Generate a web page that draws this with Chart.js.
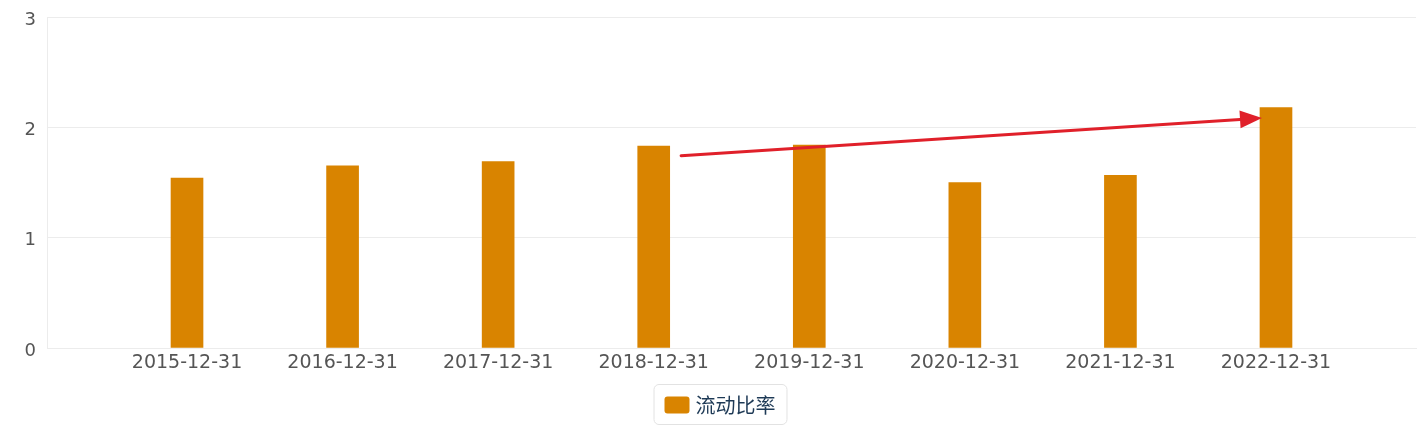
<!DOCTYPE html>
<html>
<head>
<meta charset="utf-8">
<script src="https://cdn.jsdelivr.net/npm/chart.js@4/dist/chart.umd.min.js"></script>
<style>
html,body{margin:0;padding:0;background:#fff;}
#wrap{width:1424px;height:428px;position:relative;}
</style>
</head>
<body>
<div id="wrap"><canvas id="c" width="1424" height="428"></canvas></div>
<script>
const categories = ['2015-12-31','2016-12-31','2017-12-31','2018-12-31','2019-12-31','2020-12-31','2021-12-31','2022-12-31'];
const seriesName = '流动比率';
const currentRatio = [1.54, 1.65, 1.69, 1.83, 1.84, 1.50, 1.565, 2.18];
const yTicks = [0, 1, 2, 3];
// annotation arrow in data coordinates (category index, value)
const arrowFrom = [3.176, 1.743];
const arrowTo = [6.91, 2.085];

const BAR = '#d98400';
const LABEL = '#555555';
const GRID = '#ececec';

const arrowPlugin = {
  id: 'arrow',
  afterDatasetsDraw(chart) {
    const x = chart.scales.x, y = chart.scales.y, ctx = chart.ctx;
    const x1 = x.getPixelForValue(arrowFrom[0]), y1 = y.getPixelForValue(arrowFrom[1]);
    const x2 = x.getPixelForValue(arrowTo[0]), y2 = y.getPixelForValue(arrowTo[1]);
    const ang = Math.atan2(y2 - y1, x2 - x1);
    const headLen = 22, headW = 9;
    const bx = x2 - headLen * Math.cos(ang), by = y2 - headLen * Math.sin(ang);
    ctx.save();
    ctx.strokeStyle = '#e0202a';
    ctx.fillStyle = '#e0202a';
    ctx.lineWidth = 3;
    ctx.lineCap = 'round';
    ctx.beginPath();
    ctx.moveTo(x1, y1);
    ctx.lineTo(bx, by);
    ctx.stroke();
    ctx.beginPath();
    ctx.moveTo(x2, y2);
    ctx.lineTo(bx + headW * Math.sin(ang), by - headW * Math.cos(ang));
    ctx.lineTo(bx - headW * Math.sin(ang), by + headW * Math.cos(ang));
    ctx.closePath();
    ctx.fill();
    ctx.restore();
  }
};

const legendPlugin = {
  id: 'boxLegend',
  afterDraw(chart) {
    const ctx = chart.ctx;
    ctx.save();
    ctx.font = '20px "Noto Sans CJK SC", "Noto Sans", sans-serif';
    const tw = ctx.measureText(seriesName).width;
    const sw = 25, sh = 17, gap = 6, padX = 11;
    const w = padX + sw + gap + tw + padX, h = 40;
    const cx = chart.width / 2 + 8;
    const left = cx - w / 2, top = 384;
    ctx.strokeStyle = '#e2e2e2';
    ctx.lineWidth = 1;
    ctx.beginPath();
    ctx.roundRect(left + 0.5, top + 0.5, w, h, 5);
    ctx.stroke();
    ctx.fillStyle = BAR;
    ctx.beginPath();
    ctx.roundRect(left + padX, top + (h - sh) / 2 + 1, sw, sh, 3);
    ctx.fill();
    ctx.fillStyle = '#1e3a56';
    ctx.textBaseline = 'middle';
    ctx.textAlign = 'left';
    ctx.fillText(seriesName, left + padX + sw + gap, top + h / 2 + 1);
    ctx.restore();
  }
};

new Chart(document.getElementById('c'), {
  type: 'bar',
  data: {
    datasets: [{
      label: seriesName,
      data: currentRatio.map((v, i) => ({x: i, y: v})),
      backgroundColor: BAR,
      barThickness: 32
    }]
  },
  options: {
    responsive: false,
    animation: false,
    layout: {padding: {top: 17, right: 8, left: 0, bottom: 0}},
    plugins: {legend: {display: false}, tooltip: {enabled: false}},
    scales: {
      x: {
        type: 'linear',
        offset: false,
        min: -0.9,
        max: 7.9,
        afterBuildTicks(scale) { scale.ticks = categories.map((c, i) => ({value: i})); },
        afterFit(scale) { scale.height = 80; scale.paddingLeft = 0; scale.paddingRight = 0; },
        grid: {display: false, drawTicks: false},
        border: {display: true, color: GRID},
        ticks: {
          autoSkip: false,
          maxRotation: 0,
          padding: 4,
          color: LABEL,
          font: {family: '"DejaVu Sans", sans-serif', size: 19},
          callback: (v) => categories[v]
        }
      },
      y: {
        min: 0,
        max: 3,
        afterBuildTicks(scale) { scale.ticks = yTicks.map(v => ({value: v})); },
        afterFit(scale) { scale.width = 47; scale.paddingTop = 0; scale.paddingBottom = 0; },
        grid: {color: GRID, drawTicks: false},
        border: {display: true, color: GRID},
        ticks: {
          padding: 11,
          labelOffset: 3,
          color: LABEL,
          font: {family: '"DejaVu Sans", sans-serif', size: 18}
        }
      }
    }
  },
  plugins: [arrowPlugin, legendPlugin]
});
</script>
</body>
</html>
